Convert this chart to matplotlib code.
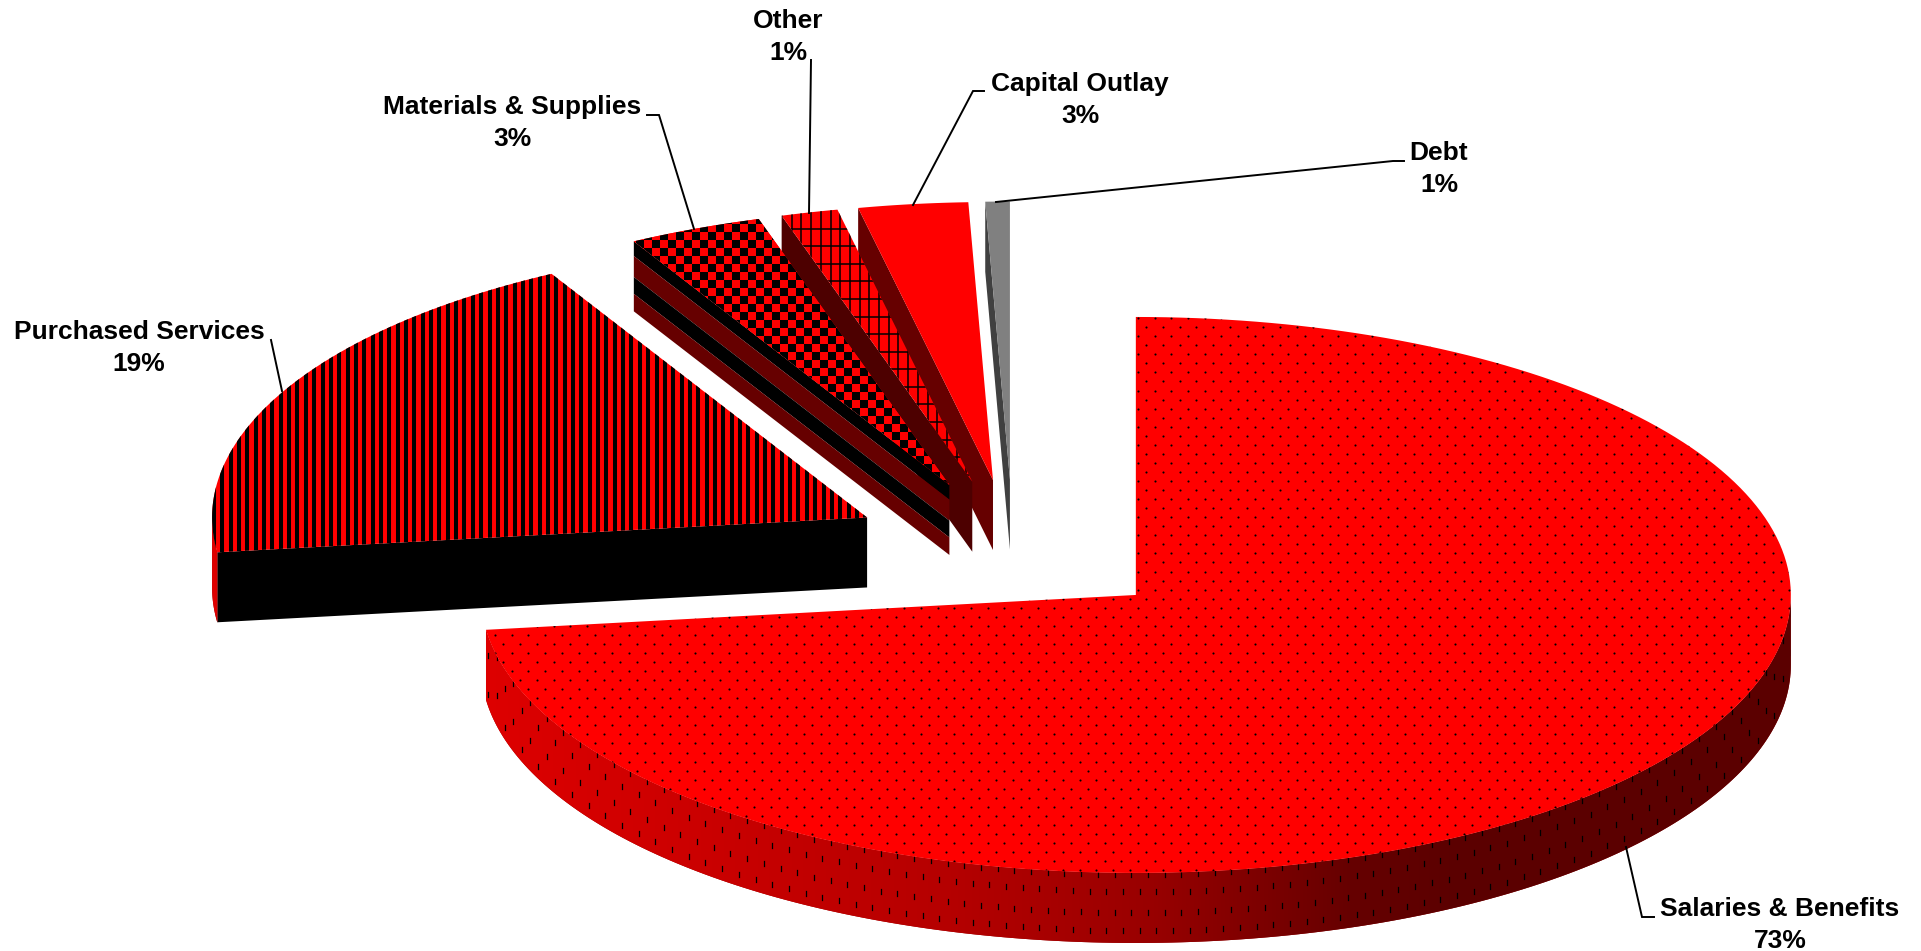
import numpy as np
import matplotlib
matplotlib.use("Agg")
import matplotlib.pyplot as plt
from matplotlib.colors import ListedColormap
from matplotlib.patches import Polygon

# data, clockwise from 12 o'clock
names = ["Salaries & Benefits", "Purchased Services", "Materials & Supplies",
         "Other", "Capital Outlay", "Debt"]
shares = [73.0, 19.0, 3.3, 1.4, 2.7, 0.6]
explode = [0.25, 0.25, 0.25, 0.25, 0.25, 0.25]

# layout in pixels
CX, CY = 1013, 549
A, B = 655, 278
DEPTH = 70

top_color = ["#FF0000", "#FF0000", "#FF0000", "#FF0000", "#FF0000", "#808080"]
patterns = ["dots", "stripes", "checker", "grid", None, None]
wall_bands = [
    None,
    [(0, 1, "#000000")],
    [(0, .21, "#000000"), (.21, .51, "#660000"), (.51, .75, "#000000"), (.75, 1, "#660000")],
    [(0, 1, "#4D0000")],
    [(0, 1, "#660000")],
    [(0, 1, "#404040")],
]

label_xy = [(1780, 926), (139, 349), (512, 124), (788, 38), (1080, 101), (1439, 170)]
leaders = [
    [(1626, 847), (1642, 917), (1654, 917)],
    [(271, 340), (282, 391)],
    [(647, 115), (659, 115), (694, 229)],
    [(811, 60), (809, 213)],
    [(984, 91), (973, 91), (913, 205)],
    [(996, 202), (1393, 161), (1404, 161)],
]

fig = plt.figure(figsize=(19.21, 9.51), dpi=100)
ax = fig.add_axes([0, 0, 1, 1])


def arc(apex, t0, t1, n=200):
    t = np.radians(np.linspace(t0, t1, n))
    return np.column_stack([apex[0] + A * np.sin(t), apex[1] - B * np.cos(t)])


def shade_rim(patch):
    # rim gets lighter towards the left side
    xs = np.arange(0, 1921)
    r = np.interp(xs, [486, 950, 1150, 1350, 1450], [.87, .71, .60, .40, .36])
    rgb = np.zeros((1, len(xs), 3))
    rgb[0, :, 0] = r
    im = ax.imshow(rgb, extent=(0, 1921, 951, 0), aspect="auto", interpolation="bilinear", zorder=patch.get_zorder())
    im.set_clip_path(patch)


def rim_dashes(rim, patch, z):
    # dash rows follow the top edge of the rim
    x = np.arange(4, 1921, 8.35)
    order = np.argsort(rim[:, 0])
    top = np.interp(x, rim[order, 0], rim[order, 1])
    for i in range(len(x)):
        offs = [19, 58] if i % 2 == 0 else [2, 40]
        for o in offs:
            ln, = ax.plot([x[i], x[i]], [top[i] + o - 2.5, top[i] + o + 2.5], color="black", lw=0.9, zorder=z)
            ln.set_clip_path(patch)


def fill_pattern(kind, patch, z):
    if kind == "dots":
        x, y = [], []
        for j, yy in enumerate(np.arange(300, 900, 9.05)):
            xx = np.arange(470 + 8.35 * (j % 2), 1800, 16.7)
            x.extend(xx)
            y.extend([yy] * len(xx))
        sc = ax.scatter(x, y, s=2.3, c="black", marker="o", linewidths=0, zorder=z)
        sc.set_clip_path(patch)
    elif kind == "stripes":
        lc = ax.vlines(np.arange(214, 880, 8.35), 200, 600, color="black", lw=2.9, zorder=z)
        lc.set_clip_path(patch)
    elif kind == "checker":
        iy, ix = np.indices((400, 400))
        tex = (ix // 8 + iy // 8) % 2
        im = ax.imshow(tex, extent=(620, 1020, 600, 200), aspect="auto", interpolation="nearest",
                       cmap=ListedColormap(["#FF0000", "#000000"]), zorder=z)
        im.set_clip_path(patch)
    elif kind == "grid":
        lc = ax.vlines(np.arange(782, 1000, 9.7), 200, 500, color="black", lw=1.1, zorder=z)
        lc.set_clip_path(patch)
        lc = ax.hlines(np.arange(228.5, 500, 17.6), 760, 1000, color="black", lw=1.1, zorder=z)
        lc.set_clip_path(patch)


edges = np.concatenate([[0], np.cumsum(shares)]) * 3.6

# back slices first, main slice last
for i in range(len(shares) - 1, -1, -1):
    t0, t1 = edges[i], edges[i + 1]
    mid = np.radians((t0 + t1) / 2)
    apex = (CX + explode[i] * A * np.sin(mid), CY - explode[i] * B * np.cos(mid))
    z = 10 + (len(shares) - i) * 5

    # cut face along the start edge
    if wall_bands[i] is not None:
        p0 = arc(apex, t0, t0, 1)[0]
        for f0, f1, col in wall_bands[i]:
            ax.add_patch(Polygon([(p0[0], p0[1] + f0 * DEPTH), (apex[0], apex[1] + f0 * DEPTH),
                                  (apex[0], apex[1] + f1 * DEPTH), (p0[0], p0[1] + f1 * DEPTH)],
                                 closed=True, fc=col, ec="none", zorder=z))

    # outer rim, front part only
    r0, r1 = max(t0, 90), min(t1, 270)
    if r0 < r1:
        rim = arc(apex, r0, r1)
        rim_poly = np.vstack([rim, (rim + [0, DEPTH])[::-1]])
        patch = Polygon(rim_poly, closed=True, fc="#990000", ec="none", zorder=z)
        ax.add_patch(patch)
        shade_rim(patch)
        if i == 0:
            rim_dashes(rim, patch, z + 0.5)

    # top surface
    surf = np.vstack([[apex], arc(apex, t0, t1)])
    patch = Polygon(surf, closed=True, fc=top_color[i], ec="none", zorder=z + 1)
    ax.add_patch(patch)
    fill_pattern(patterns[i], patch, z + 2)

for i in range(len(names)):
    xs = [p[0] for p in leaders[i]]
    ys = [p[1] for p in leaders[i]]
    ax.plot(xs, ys, color="black", lw=1.4, zorder=60, solid_joinstyle="miter")
    ax.text(label_xy[i][0], label_xy[i][1] - 1, f"{names[i]}\n{round(shares[i])}%",
            family="Liberation Sans", weight="bold", fontsize=19, ha="center", va="center",
            linespacing=1.37, color="black", zorder=70)

ax.set_xlim(0, 1921)
ax.set_ylim(951, 0)
ax.axis("off")
fig.savefig("out.png", dpi=100, facecolor="white")
